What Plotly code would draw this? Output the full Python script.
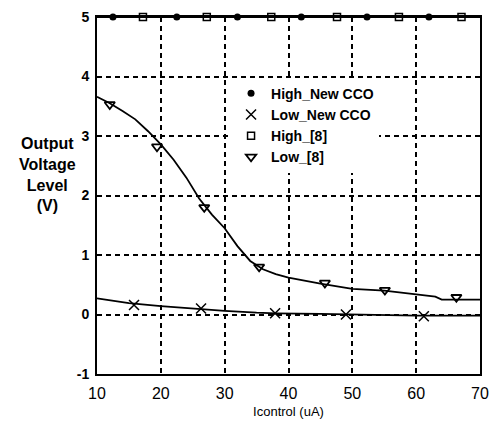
import plotly.graph_objects as go

# ---- data ----
high_new_x = [12.5, 22.5, 32.0, 42.0, 52.3, 62.0]
high_new_y = [5, 5, 5, 5, 5, 5]

high_8_x = [17.2, 27.2, 37.3, 47.6, 57.3, 67.1]
high_8_y = [5, 5, 5, 5, 5, 5]

high_line_x = [10, 70]
high_line_y = [5, 5]

low_new_curve_x = [10, 15, 20, 26, 30, 35, 38, 45, 50, 60, 70]
low_new_curve_y = [0.27, 0.19, 0.14, 0.09, 0.06, 0.03, 0.02, 0.01, 0.0, -0.02, -0.02]
low_new_x = [15.8, 26.3, 37.9, 49.0, 61.2]
low_new_y = [0.16, 0.10, 0.02, 0.0, -0.03]

low_8_curve_x = [10, 12, 14, 16, 18, 20, 22, 24, 26, 28, 30, 32, 34, 36, 38, 40,
                 45, 50, 55, 60, 63, 64, 70]
low_8_curve_y = [3.66, 3.55, 3.42, 3.28, 3.08, 2.86, 2.6, 2.3, 1.95, 1.68, 1.45,
                 1.15, 0.9, 0.76, 0.68, 0.62, 0.52, 0.43, 0.4, 0.33, 0.3, 0.25, 0.25]
low_8_x = [12.0, 19.4, 26.8, 35.4, 45.7, 55.1, 66.3]
low_8_y = [3.53, 2.82, 1.80, 0.80, 0.53, 0.41, 0.29]

x_ticks = [10, 20, 30, 40, 50, 60, 70]
y_ticks = [-1, 0, 1, 2, 3, 4, 5]

FONT = "Liberation Sans Narrow, Arial Narrow, Liberation Sans, sans-serif"

fig = go.Figure()

# lines (no legend)
for cx, cy in [(high_line_x, high_line_y), (low_new_curve_x, low_new_curve_y),
               (low_8_curve_x, low_8_curve_y)]:
    fig.add_trace(go.Scatter(x=cx, y=cy, mode="lines", showlegend=False,
                             line=dict(color="black", width=1.8),
                             cliponaxis=False, hoverinfo="skip"))

# markers (legend)
fig.add_trace(go.Scatter(x=high_new_x, y=high_new_y, mode="markers", name="High_New CCO",
                         marker=dict(symbol="circle", size=7, color="black"),
                         cliponaxis=False))
fig.add_trace(go.Scatter(x=low_new_x, y=low_new_y, mode="markers", name="Low_New CCO",
                         marker=dict(symbol="x-thin-open", size=10, color="black",
                                     line=dict(width=1.5, color="black")),
                         cliponaxis=False))
fig.add_trace(go.Scatter(x=high_8_x, y=high_8_y, mode="markers", name="High_[8]",
                         marker=dict(symbol="square-open", size=7, color="black",
                                     line=dict(width=1.5, color="black")),
                         cliponaxis=False))
fig.add_trace(go.Scatter(x=low_8_x, y=low_8_y, mode="markers", name="Low_[8]",
                         marker=dict(symbol="triangle-down-open", size=9, color="black",
                                     line=dict(width=1.8, color="black")),
                         cliponaxis=False))

axis_common = dict(
    showline=True, linecolor="black", linewidth=2, mirror=True,
    showgrid=True, gridcolor="black", gridwidth=1.5, griddash="5px,4px",
    zeroline=False, ticks="", color="black", ticklabeloverflow="allow",
    automargin=False,
)

fig.update_xaxes(range=[10, 70], tickvals=x_ticks, ticktext=[str(v) for v in x_ticks],
                 tickfont=dict(family=FONT, size=16, color="black"),
                 ticklabelstandoff=4,
                 title=dict(text="Icontrol (uA)", font=dict(family=FONT, size=13, color="black"),
                            standoff=8),
                 **axis_common)
fig.update_yaxes(range=[-1, 5], tickvals=y_ticks, ticktext=[str(v) for v in y_ticks],
                 tickfont=dict(family=FONT, size=14, color="black", weight="bold"),
                 ticklabelstandoff=3,
                 **axis_common)

fig.add_annotation(text="Output<br>Voltage<br>Level<br>(V)", xref="paper", yref="paper",
                   x=-0.13, y=0.56, xanchor="center", yanchor="middle", showarrow=False,
                   font=dict(family=FONT, size=16, color="black", weight="bold"))

fig.update_layout(
    width=483, height=411,
    margin=dict(l=89, r=11, t=9, b=45),
    paper_bgcolor="white", plot_bgcolor="white",
    font=dict(family=FONT, color="black"),
    legend=dict(x=0.35, y=0.83, xanchor="left", yanchor="top",
                bgcolor="white", borderwidth=0,
                font=dict(family=FONT, size=14, color="black", weight="bold"),
                tracegroupgap=0, itemwidth=30),
    showlegend=True,
)

fig.write_html("out.html")
